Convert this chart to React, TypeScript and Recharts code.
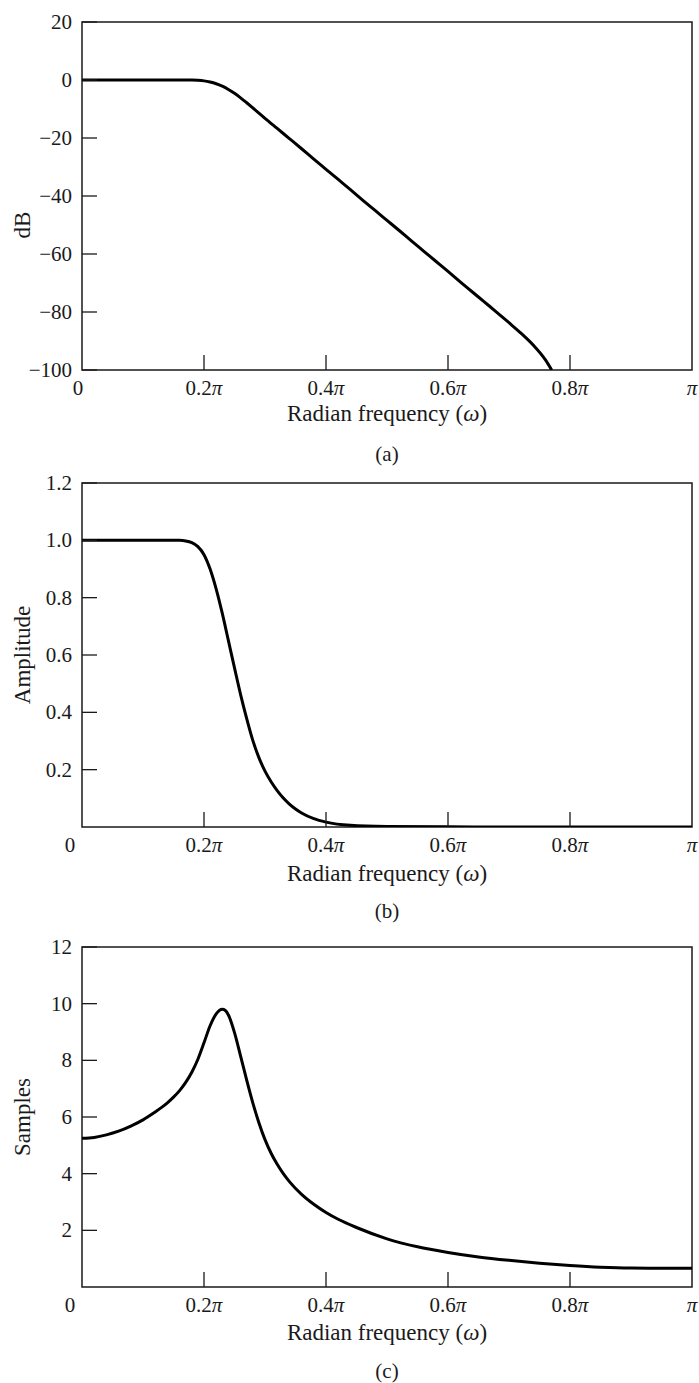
import React from "react";
import { LineChart, Line, XAxis, YAxis, ReferenceArea } from "recharts";

// frequency in units of pi
const magFreq = [0, 0.05, 0.1, 0.15, 0.18, 0.19, 0.2, 0.21, 0.22, 0.23, 0.24, 0.25, 0.26, 0.27, 0.28, 0.29, 0.3, 0.32, 0.34, 0.36, 0.38, 0.4, 0.42, 0.44, 0.46, 0.48, 0.5, 0.52, 0.54, 0.56, 0.58, 0.6, 0.62, 0.64, 0.66, 0.68, 0.7, 0.72, 0.74, 0.76, 0.77];
const magDb = [0, 0, 0, 0, -0.03, -0.1, -0.3, -0.7, -1.3, -2.15, -3.25, -4.6, -6.15, -7.85, -9.6, -11.4, -13.2, -16.7, -20.2, -23.7, -27.3, -30.8, -34.3, -37.8, -41.4, -44.9, -48.4, -51.9, -55.5, -59, -62.5, -66, -69.6, -73.1, -76.6, -80.1, -83.7, -87.4, -91.5, -96.6, -100];

const ampFreq = [0, 0.05, 0.1, 0.14, 0.16, 0.17, 0.18, 0.19, 0.2, 0.21, 0.22, 0.23, 0.24, 0.25, 0.26, 0.27, 0.28, 0.29, 0.3, 0.31, 0.32, 0.33, 0.34, 0.35, 0.36, 0.38, 0.4, 0.44, 0.5, 0.6, 0.7, 0.8, 0.9, 1];
const ampValues = [1, 1, 1, 1, 1, 0.998, 0.992, 0.978, 0.95, 0.9, 0.83, 0.745, 0.65, 0.555, 0.462, 0.378, 0.302, 0.242, 0.195, 0.158, 0.127, 0.101, 0.08, 0.063, 0.049, 0.029, 0.017, 0.006, 0.002, 0.0005, 0, 0, 0, 0];

const delayFreq = [0, 0.02, 0.04, 0.06, 0.08, 0.1, 0.12, 0.13, 0.14, 0.15, 0.16, 0.17, 0.18, 0.19, 0.2, 0.21, 0.22, 0.23, 0.235, 0.24, 0.25, 0.26, 0.27, 0.28, 0.29, 0.3, 0.31, 0.32, 0.33, 0.34, 0.36, 0.38, 0.4, 0.42, 0.45, 0.5, 0.55, 0.6, 0.65, 0.7, 0.75, 0.8, 0.85, 0.9, 0.95, 1];
const delaySamples = [5.25, 5.28, 5.37, 5.5, 5.68, 5.9, 6.18, 6.33, 6.5, 6.7, 6.93, 7.22, 7.58, 8.04, 8.62, 9.22, 9.64, 9.8, 9.76, 9.6, 8.98, 8.15, 7.3, 6.5, 5.8, 5.2, 4.72, 4.33, 4.0, 3.72, 3.27, 2.92, 2.63, 2.39, 2.1, 1.7, 1.42, 1.22, 1.06, 0.94, 0.84, 0.76, 0.7, 0.67, 0.665, 0.665];

const xTicks = [0, 0.2, 0.4, 0.6, 0.8, 1];
const dbTicks = [-100, -80, -60, -40, -20, 0, 20];
const ampTicks = [0.2, 0.4, 0.6, 0.8, 1.0, 1.2];
const sampleTicks = [2, 4, 6, 8, 10, 12];

const FONT = '"Liberation Serif", "Times New Roman", serif';
const INK = "#1a1a1a";

const zip = (xs: number[], ys: number[]) => xs.map((w, i) => ({ w, v: ys[i] }));

function XTick({ x, y, payload, zeroDx }: any) {
  const v = payload.value;
  const inner = v > 0 && v < 1;
  return (
    <g>
      {inner && <line x1={x} y1={y} x2={x} y2={y - 15} stroke={INK} strokeWidth={1.3} />}
      <text x={v === 0 ? x + zeroDx : x} y={y + 25} textAnchor="middle" fontFamily={FONT} fontSize={21} fill={INK}>
        {v === 0 ? "0" : v === 1 ? (
          <tspan fontStyle="italic">π</tspan>
        ) : (
          <>
            {v.toFixed(1)}
            <tspan fontStyle="italic">π</tspan>
          </>
        )}
      </text>
    </g>
  );
}

function YTick({ x, y, payload, fmt }: any) {
  return (
    <g>
      <line x1={x} y1={y} x2={x + 15} y2={y} stroke={INK} strokeWidth={1.3} />
      <text x={x - 10} y={y + 7} textAnchor="end" fontFamily={FONT} fontSize={21} fill={INK}>
        {fmt(payload.value)}
      </text>
    </g>
  );
}

function Panel({ top, height, plotTop, plotBottom, data, domain, yTicks, fmt, yTitle, yTitleDy, caption, titleDy, zeroDx }: any) {
  const axisH = top + height - plotBottom;
  return (
    <div style={{ position: "absolute", left: 0, top }}>
      <LineChart width={699} height={height} data={data} margin={{ top: plotTop - top, right: 7, bottom: 0, left: 0 }}>
        <XAxis
          dataKey="w"
          type="number"
          domain={[0, 1]}
          ticks={xTicks}
          height={axisH}
          axisLine={false}
          tickLine={false}
          tickSize={0}
          tickMargin={0}
          interval={0}
          tick={(p: any) => <XTick {...p} zeroDx={zeroDx} />}
          label={{
            content: ({ viewBox }: any) => {
              const cx = viewBox.x + viewBox.width / 2;
              return (
                <g fontFamily={FONT} fill={INK} textAnchor="middle">
                  <text x={cx} y={viewBox.y + titleDy + 7} fontSize={23}>
                    Radian frequency (<tspan fontStyle="italic">ω</tspan>)
                  </text>
                  <text x={cx} y={viewBox.y + 91} fontSize={21}>{caption}</text>
                </g>
              );
            },
          }}
        />
        <YAxis
          type="number"
          domain={domain}
          ticks={yTicks}
          width={82}
          axisLine={false}
          tickLine={false}
          tickSize={0}
          tickMargin={0}
          interval={0}
          allowDataOverflow
          tick={(p: any) => <YTick {...p} fmt={fmt} />}
          label={{
            content: ({ viewBox }: any) => {
              const cy = viewBox.y + viewBox.height / 2 + yTitleDy;
              return (
                <text
                  x={22}
                  y={cy}
                  transform={`rotate(-90 22 ${cy})`}
                  textAnchor="middle"
                  dominantBaseline="central"
                  fontFamily={FONT}
                  fontSize={23}
                  fill={INK}
                >
                  {yTitle}
                </text>
              );
            },
          }}
        />
        <ReferenceArea x1={0} x2={1} y1={domain[0]} y2={domain[1]} fill="none" stroke={INK} strokeWidth={1.5} />
        <Line type="monotone" dataKey="v" stroke="#000" strokeWidth={3} dot={false} isAnimationActive={false} />
      </LineChart>
    </div>
  );
}

export default function App() {
  return (
    <div style={{ position: "absolute", left: 0, top: 0, width: 699, height: 1383, background: "#fff" }}>
      <Panel
        top={0}
        height={470}
        plotTop={22}
        plotBottom={370}
        data={zip(magFreq, magDb)}
        domain={[-100, 20]}
        yTicks={dbTicks}
        fmt={(v: number) => (v < 0 ? `−${-v}` : `${v}`)}
        yTitle="dB"
        yTitleDy={29}
        caption="(a)"
        titleDy={44}
        zeroDx={-4}
      />
      <Panel
        top={460}
        height={470}
        plotTop={483}
        plotBottom={827}
        data={zip(ampFreq, ampValues)}
        domain={[0, 1.2]}
        yTicks={ampTicks}
        fmt={(v: number) => v.toFixed(1)}
        yTitle="Amplitude"
        yTitleDy={0}
        caption="(b)"
        titleDy={47}
        zeroDx={-12}
      />
      <Panel
        top={920}
        height={463}
        plotTop={947}
        plotBottom={1287}
        data={zip(delayFreq, delaySamples)}
        domain={[0, 12]}
        yTicks={sampleTicks}
        fmt={(v: number) => `${v}`}
        yTitle="Samples"
        yTitleDy={0}
        caption="(c)"
        titleDy={46}
        zeroDx={-12}
      />
    </div>
  );
}
